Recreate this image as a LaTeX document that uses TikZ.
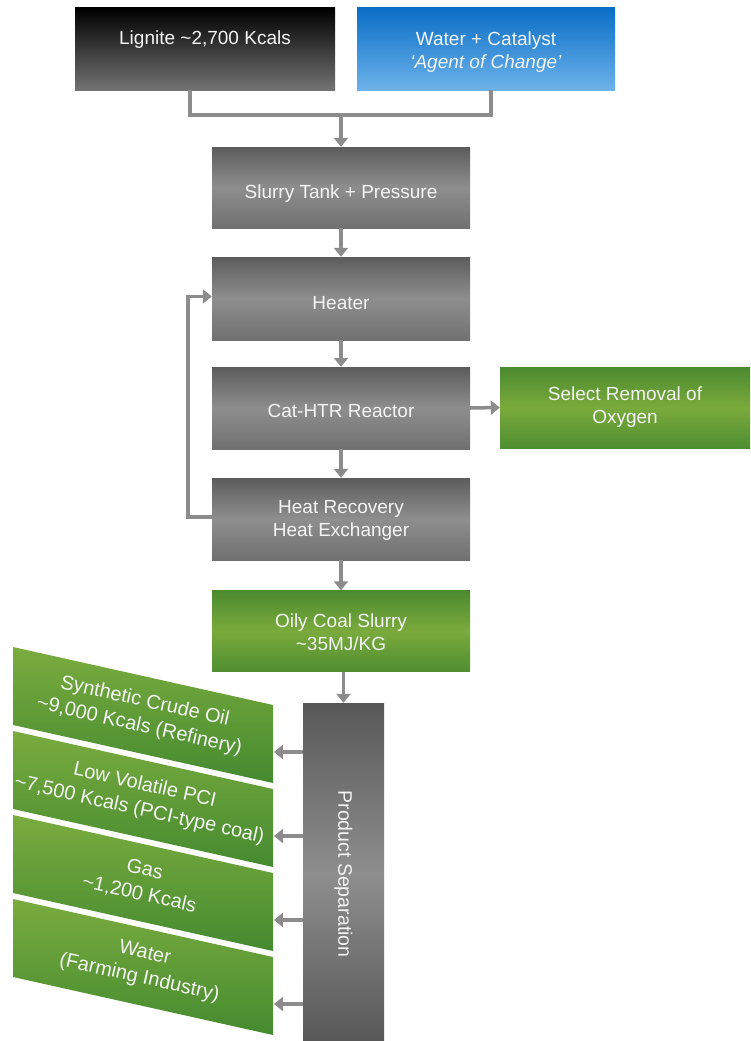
\documentclass[tikz,border=0pt]{standalone}
\usepackage{fontspec}
\setmainfont{Liberation Sans}
\usetikzlibrary{arrows.meta}
\definecolor{conn}{HTML}{8C8C8C}
\definecolor{txt}{HTML}{F4F4F4}
\definecolor{gtop}{HTML}{5C5C5C}
\definecolor{gmid}{HTML}{8E8E8E}
\definecolor{gbot}{HTML}{707070}
\definecolor{grtop}{HTML}{4B8A2F}
\definecolor{grmid}{HTML}{7AAA3C}
\definecolor{grbot}{HTML}{4F8E30}
\definecolor{bandlight}{HTML}{7AAC3E}
\definecolor{banddark}{HTML}{458A30}
\definecolor{bluetop}{HTML}{0A6EC6}
\definecolor{bluebot}{HTML}{6CB2EA}
\tikzset{
  box/.style={rectangle, inner sep=0pt},
  boxtext/.style={align=center, text=txt, font=\fontsize{19}{23}\selectfont},
  graybox/.style={box, top color=gtop, bottom color=gbot, middle color=gmid},
  greenbox/.style={box, top color=grtop, bottom color=grbot, middle color=grmid},
  line/.style={draw=conn, line width=3.5pt},
  arrow/.style={line, -{Triangle[width=14pt,length=9pt]}},
  bandtext/.style={align=center, text=txt, rotate=-12.6,
    font=\fontsize{20}{25}\selectfont}
}
\begin{document}
\begin{tikzpicture}[x=1pt,y=-1pt]
\useasboundingbox (0,0) rectangle (750,1041);
% top inputs
\node[box, top color=black, bottom color=black!55, minimum width=260pt, minimum height=82pt,
  label={[boxtext, yshift=9pt]center:Lignite \textasciitilde 2,700 Kcals}] (lig) at (205,49) {};
\node[box, top color=bluetop, bottom color=bluebot, minimum width=258pt, minimum height=82pt,
  label={[boxtext, yshift=-3pt]center:Water + Catalyst\\\textit{`Agent of Change'}}] (wat) at (486,49) {};
% main column
\node[graybox, minimum width=258pt, minimum height=81pt,
  label={[boxtext, yshift=-6pt]center:Slurry Tank + Pressure}] (slurry) at (341,187.5) {};
\node[graybox, minimum width=258pt, minimum height=83pt,
  label={[boxtext, yshift=-5pt]center:Heater}] (heater) at (341,298.5) {};
\node[graybox, minimum width=258pt, minimum height=82pt,
  label={[boxtext, yshift=-3pt]center:Cat-HTR Reactor}] (cat) at (341,408) {};
\node[graybox, minimum width=258pt, minimum height=82pt,
  label={[boxtext, yshift=-1pt]center:Heat Recovery\\Heat Exchanger}] (hr) at (341,519) {};
\node[greenbox, minimum width=258pt, minimum height=81pt,
  label={[boxtext, yshift=-1pt]center:Oily Coal Slurry\\\textasciitilde 35MJ/KG}] (oily) at (341,631) {};
\node[greenbox, minimum width=250pt, minimum height=81pt,
  label={[boxtext]center:Select Removal of\\Oxygen}] (sel) at (625,407.5) {};
\node[box, top color=gtop!95!black, bottom color=gtop!95!black, middle color=gmid,
  minimum width=81pt, minimum height=340pt,
  label={[boxtext, rotate=-90, font=\fontsize{19.5}{23}\selectfont, xshift=1pt]center:Product Separation}] (sep) at (343.5,873) {};
% connectors at top
\coordinate (j) at (slurry.north |- 0,115);
\draw[line] ([xshift=-15pt]lig.south) |- (j) -| ([xshift=5pt]wat.south);
\draw[arrow] (j) -- (slurry.north);
\draw[arrow] (slurry.south) -- (heater.north);
\draw[arrow] (heater.south) -- (cat.north);
\draw[arrow] (cat.south) -- (hr.north);
\draw[arrow] (hr.south) -- (oily.north);
\draw[arrow] (sep.north |- oily.south) -- (sep.north);
\draw[arrow] (cat.east) -- (sel.west);
\draw[arrow] ([yshift=2pt]hr.west) -- ++(-24,0) |- ([yshift=2pt]heater.west);
% output bands
\foreach \i/\la/\lb in {0/{Synthetic Crude Oil}/{\textasciitilde 9,000 Kcals (Refinery)},
                        1/{Low Volatile PCI}/{\textasciitilde 7,500 Kcals (PCI-type coal)},
                        2/{Gas}/{\textasciitilde 1,200 Kcals},
                        3/{Water}/{(Farming Industry)}}{
  \pgfmathsetmacro{\t}{647+84*\i}
  \shade[top color=bandlight, bottom color=banddark]
    (13,\t) -- (273,\t+58) -- (273,\t+136) -- (13,\t+78) -- cycle;
  \node[bandtext] (band\i) at (142,\t+67) {\la\\\lb};
  \coordinate (out\i) at (274,\t+105);
  \draw[arrow] (sep.west |- out\i) -- (out\i);
}
\end{tikzpicture}
\end{document}
